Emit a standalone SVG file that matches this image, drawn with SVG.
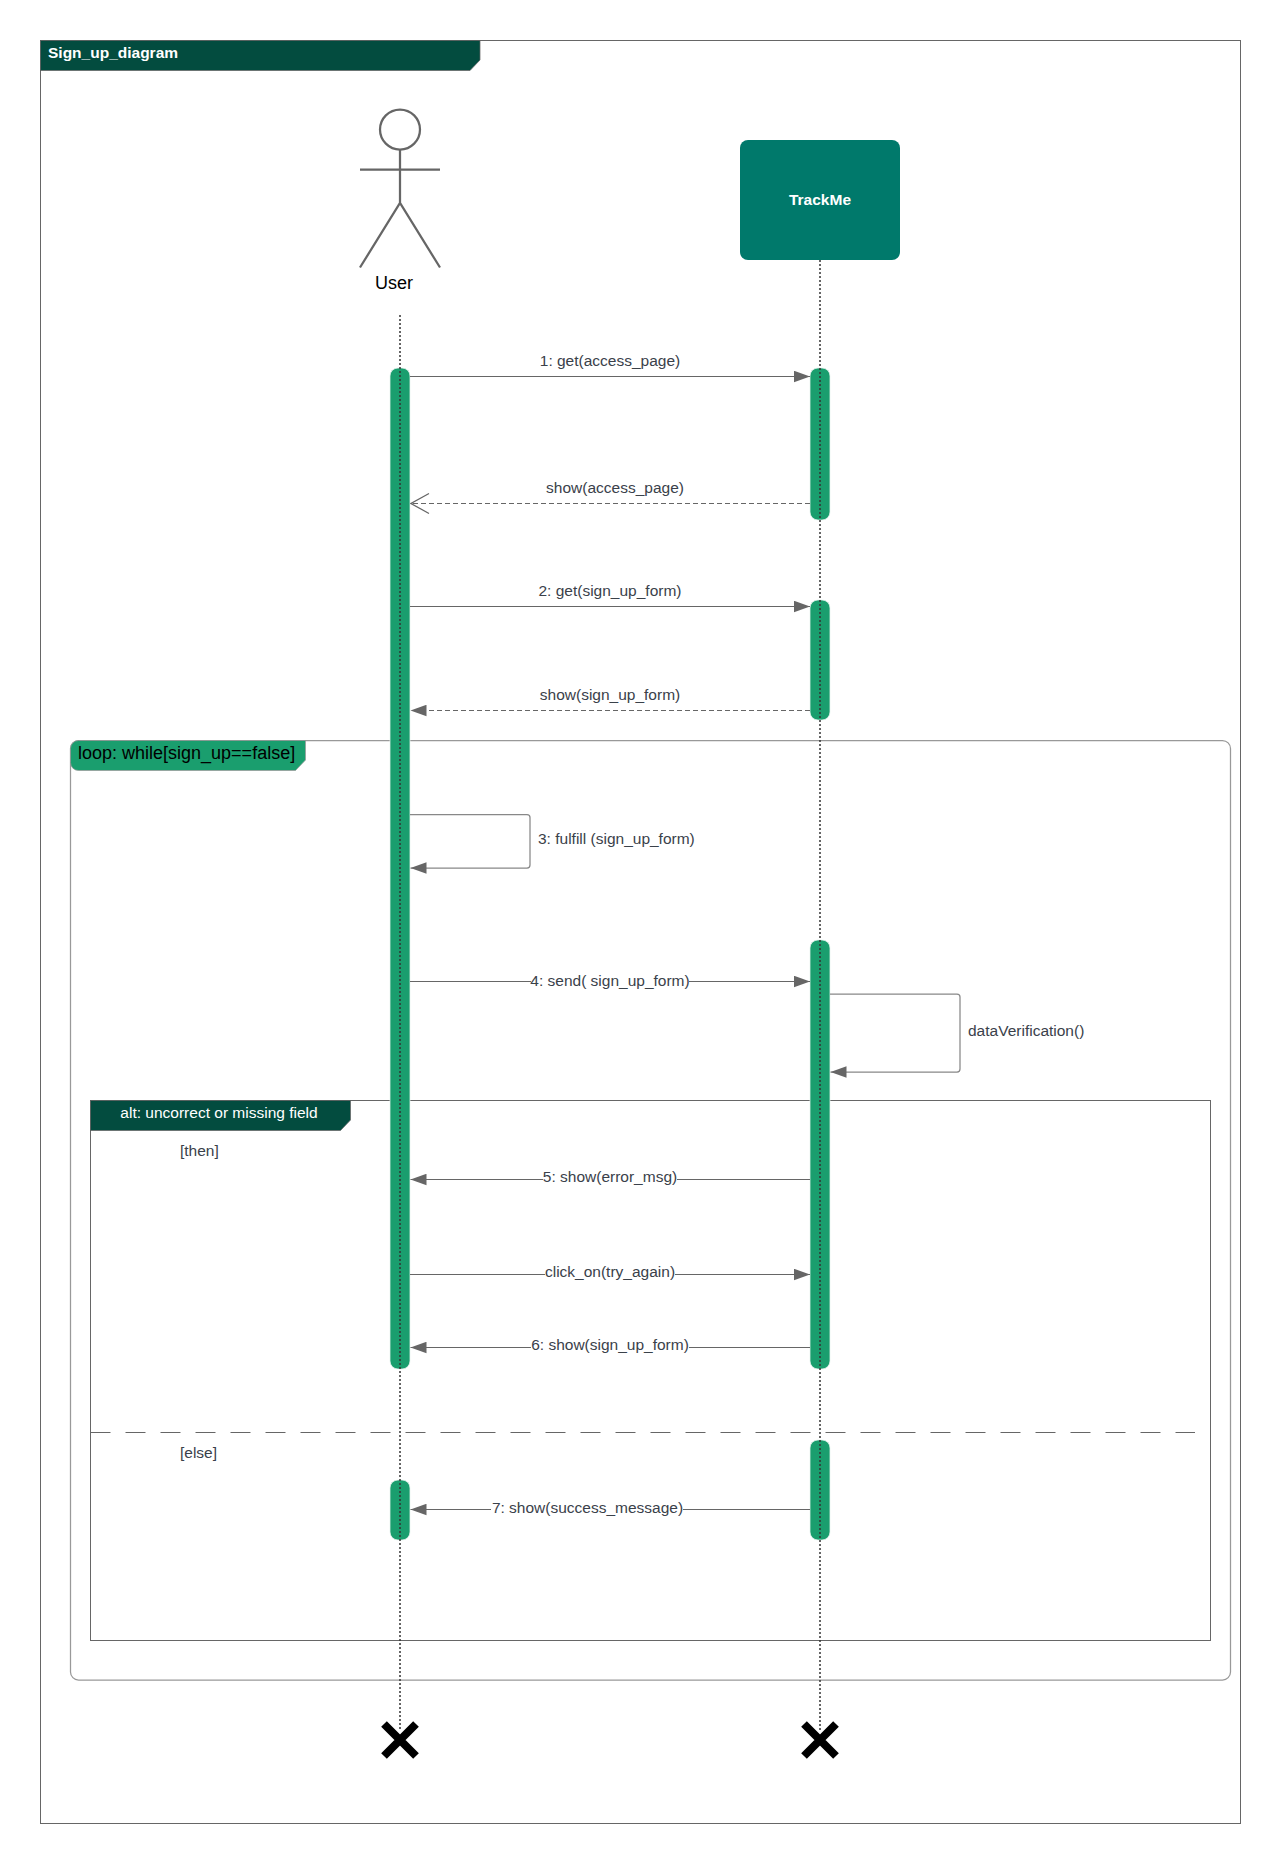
<svg xmlns="http://www.w3.org/2000/svg" width="1280" height="1864" viewBox="0 0 1280 1864">
<style>
text{font-family:"Liberation Sans",Arial,sans-serif;font-size:15.5px;fill:#3a414a}
.c{text-anchor:middle}
.frame{fill:none;stroke:#666;stroke-width:1}
.loop{fill:none;stroke:#999;stroke-width:1.25}
.msg{fill:none;stroke:#666;stroke-width:1}
.self{fill:none;stroke:#888;stroke-width:1.25}
.dash{stroke-dasharray:5 3}
.life{fill:none;stroke:#333;stroke-width:1.5;stroke-dasharray:2 2}
.act{fill:#1a9e6e;stroke:#e8f4ef;stroke-width:.75}
.dark{fill:#034c3f;stroke:#666;stroke-width:.75}
.x{stroke:#000;stroke-width:8;fill:none}
.bg{fill:#fff}
.actor{fill:none;stroke:#666;stroke-width:2.25}
</style>
<defs>
<marker id="fill" markerUnits="userSpaceOnUse" markerWidth="18" markerHeight="12" refX="16.5" refY="6" orient="auto"><path d="M0.5 0.25L16.5 6L0.5 11.75Z" fill="#666"/></marker>
<marker id="open" markerUnits="userSpaceOnUse" markerWidth="20" markerHeight="24" refX="19" refY="12" orient="auto"><path d="M1 2L19 12L1 22" fill="none" stroke="#666" stroke-width="1.25"/></marker>
</defs>
<rect width="1280" height="1864" fill="#fff"/>
<g id="sign-up-frame">
<rect class="frame" x="40.5" y="40.5" width="1200" height="1783"/>
<path class="dark" d="M40.5 40.5H480V60L470 70.5H40.5Z"/>
<text x="48" y="58" style="font-weight:bold;fill:#fff">Sign_up_diagram</text>
</g>
<g id="loop-frame">
<rect class="loop" x="70.5" y="740.5" width="1160" height="939.5" rx="8"/>
<path d="M70.5 748.5A8 8 0 0 1 78.5 740.5H305.5V760L295.5 770.5H78.5A8 8 0 0 1 70.5 762.5Z" fill="#1a9e6e" stroke="#999" stroke-width=".75"/>
<text x="78" y="759" style="font-size:18px;fill:#000">loop: while[sign_up==false]</text>
</g>
<g id="alt-frame">
<rect class="frame" x="90.5" y="1100.5" width="1120" height="540"/>
<path class="dark" d="M90.5 1100.5H350.5V1120L340.5 1130.5H90.5Z"/>
<text class="c" x="219" y="1118" style="fill:#fff">alt: uncorrect or missing field</text>
<text x="180" y="1156">[then]</text>
<path d="M90.5 1432.5H1195" fill="none" stroke="#666" stroke-width="1" stroke-dasharray="20 15"/>
<text x="180" y="1458">[else]</text>
</g>
<g id="user">
<circle class="actor" cx="400" cy="129.5" r="20"/>
<path class="actor" d="M400 149.5V203M360 169.5H440M360 267.5L400 203L440 267.5"/>
<text x="375" y="289" style="font-size:18px;fill:#000">User</text>
</g>
<g id="trackme">
<rect x="740" y="140" width="160" height="120" rx="8" fill="#00796b"/>
<text class="c" x="820" y="205" style="font-weight:bold;fill:#fff">TrackMe</text>
</g>
<g id="activations">
<rect class="act" x="390" y="368" width="20" height="1001" rx="8"/>
<rect class="act" x="810" y="368" width="20" height="152" rx="8"/>
<rect class="act" x="810" y="600" width="20" height="120" rx="8"/>
<rect class="act" x="810" y="940" width="20" height="429" rx="8"/>
<rect class="act" x="810" y="1440" width="20" height="100" rx="8"/>
<rect class="act" x="390" y="1480" width="20" height="60" rx="8"/>
</g>
<g id="connectors">
<path class="life" d="M400 315V1731"/>
<path class="life" d="M820 260V1731"/>
<path class="msg" d="M410 376.5H810" marker-end="url(#fill)"/>
<path class="msg dash" d="M810 503.5H411" marker-end="url(#open)"/>
<path class="msg" d="M410 606.5H810" marker-end="url(#fill)"/>
<path class="msg dash" d="M810 710.5H410.5" marker-end="url(#fill)"/>
<path class="self" d="M410 814.5H527a3 3 0 0 1 3 3V865a3 3 0 0 1 -3 3H410.5" marker-end="url(#fill)"/>
<path class="msg" d="M410 981.5H810" marker-end="url(#fill)"/>
<path class="self" d="M830 994H957a3 3 0 0 1 3 3V1069a3 3 0 0 1 -3 3H830.5" marker-end="url(#fill)"/>
<path class="msg" d="M810 1179.5H410.5" marker-end="url(#fill)"/>
<path class="msg" d="M410 1274.5H810" marker-end="url(#fill)"/>
<path class="msg" d="M810 1347.5H410.5" marker-end="url(#fill)"/>
<path class="msg" d="M810 1509.5H410.5" marker-end="url(#fill)"/>
<path class="x" d="M384 1724L416 1756M416 1724L384 1756"/>
<path class="x" d="M804 1724L836 1756M836 1724L804 1756"/>
</g>
<g id="labels">
<text class="c" x="610" y="366">1: get(access_page)</text>
<text class="c" x="615" y="493">show(access_page)</text>
<text class="c" x="610" y="596">2: get(sign_up_form)</text>
<text class="c" x="610" y="700">show(sign_up_form)</text>
<text x="538" y="844">3: fulfill (sign_up_form)</text>
<rect class="bg" x="531" y="970" width="158" height="22"/>
<text class="c" x="610" y="985.5">4: send( sign_up_form)</text>
<text x="968" y="1036">dataVerification()</text>
<rect class="bg" x="543" y="1168" width="134" height="22"/>
<text class="c" x="610" y="1182">5: show(error_msg)</text>
<rect class="bg" x="545" y="1263" width="130" height="22"/>
<text class="c" x="610" y="1277">click_on(try_again)</text>
<rect class="bg" x="531" y="1336" width="158" height="22"/>
<text class="c" x="610" y="1350">6: show(sign_up_form)</text>
<rect class="bg" x="491" y="1498" width="192" height="22"/>
<text class="c" x="587.5" y="1512.5">7: show(success_message)</text>
</g>
</svg>
